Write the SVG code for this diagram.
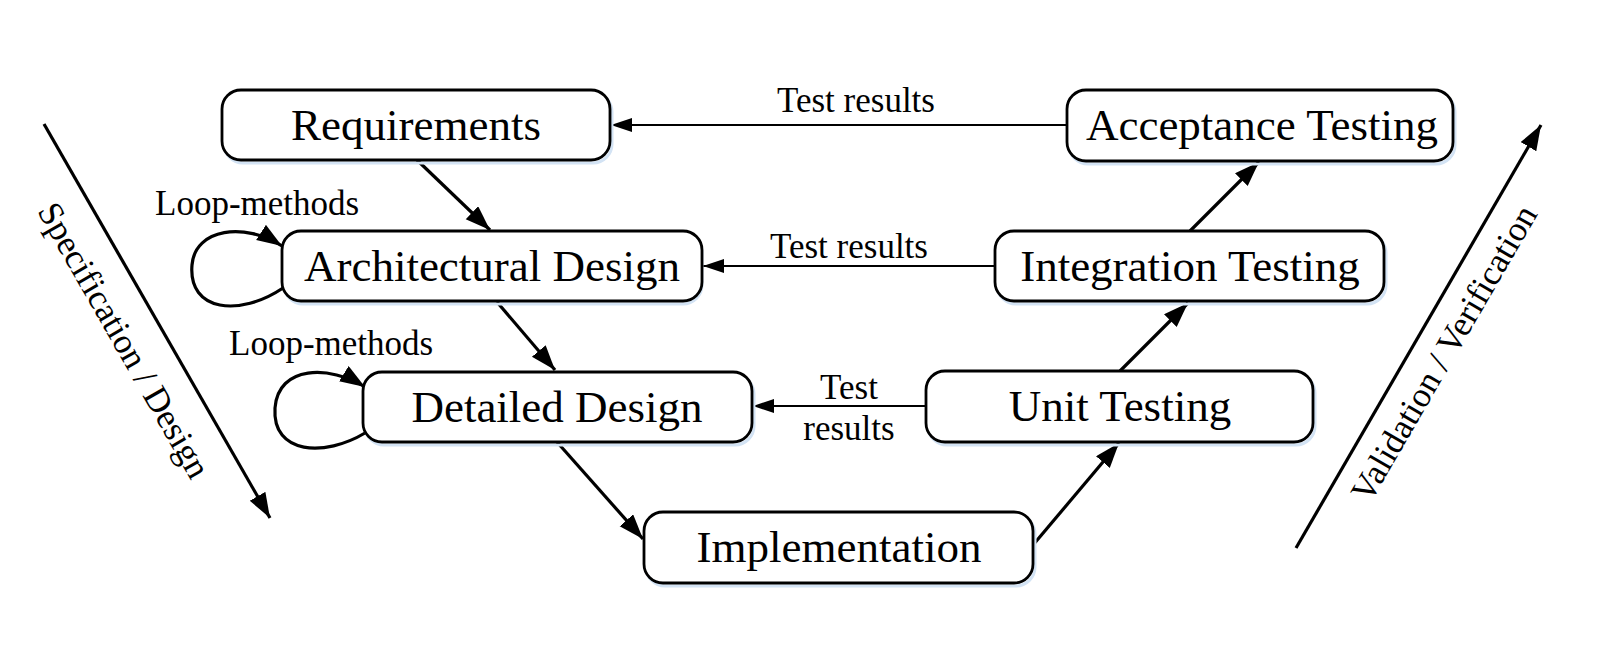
<svg xmlns="http://www.w3.org/2000/svg" width="1615" height="657" viewBox="0 0 1615 657">
<style>
.box{fill:#ffffff;stroke:#000000;stroke-width:2.8}
.shadow{fill:none;stroke:#d3e3f4;stroke-width:3}
.bt{font-family:"Liberation Serif","Times New Roman",serif;font-size:45px;fill:#000;text-anchor:middle}
.lt{font-family:"Liberation Serif","Times New Roman",serif;font-size:35px;fill:#000}
.thick{fill:none;stroke:#000;stroke-width:3.2}
.thin{fill:none;stroke:#000;stroke-width:1.8}
</style>
<defs>
<marker id="ah" markerUnits="userSpaceOnUse" markerWidth="26" markerHeight="20" refX="25" refY="9" orient="auto">
<path d="M0,0 L25,9 L0,18 z" fill="#000"/>
</marker>
<marker id="ahs" markerUnits="userSpaceOnUse" markerWidth="22" markerHeight="16" refX="21" refY="7" orient="auto">
<path d="M0,0 L21,7 L0,14 z" fill="#000"/>
</marker>
</defs>
<rect width="1615" height="657" fill="#ffffff"/>

<g id="connectors">
<line class="thin" x1="1067" y1="125" x2="611" y2="125" marker-end="url(#ahs)"/>
<line class="thin" x1="995" y1="266" x2="703" y2="266" marker-end="url(#ahs)"/>
<line class="thin" x1="926" y1="406" x2="753" y2="406" marker-end="url(#ahs)"/>
<line class="thick" x1="417" y1="160" x2="490" y2="230" marker-end="url(#ah)"/>
<line class="thick" x1="497" y1="302" x2="555" y2="370" marker-end="url(#ah)"/>
<line class="thick" x1="557" y1="442" x2="643" y2="539" marker-end="url(#ah)"/>
<line class="thick" x1="1033" y1="545" x2="1119" y2="443" marker-end="url(#ah)"/>
<line class="thick" x1="1120" y1="371" x2="1188" y2="303" marker-end="url(#ah)"/>
<line class="thick" x1="1190" y1="231" x2="1259" y2="162" marker-end="url(#ah)"/>
<path class="thick" d="M283,288 C240,317 188,312 192,265 C195,228 245,222 282,246" marker-end="url(#ah)"/>
<path class="thick" d="M365,433 C325,457 272,455 275,408 C278,365 330,365 365,387" marker-end="url(#ah)"/>
<line class="thick" x1="44" y1="124" x2="270" y2="518" marker-end="url(#ah)"/>
<line class="thick" x1="1296" y1="548" x2="1541" y2="125" marker-end="url(#ah)"/>
</g>

<g id="labels">
<text class="lt" x="856" y="112" text-anchor="middle">Test results</text>
<text class="lt" x="849" y="258" text-anchor="middle">Test results</text>
<text class="lt" x="849" y="399" text-anchor="middle">Test</text>
<text class="lt" x="849" y="440" text-anchor="middle">results</text>
<text class="lt" x="155" y="215">Loop-methods</text>
<text class="lt" x="229" y="355">Loop-methods</text>
<text class="lt" text-anchor="middle" transform="translate(114,346) rotate(60.2)">Specification / Design</text>
<text class="lt" text-anchor="middle" transform="translate(1454,359) rotate(-59.9)">Validation / Verification</text>
</g>

<g id="requirements">
<rect class="shadow" x="224" y="93" width="388" height="70" rx="19"/>
<rect class="box" x="222" y="90" width="388" height="70" rx="19"/>
<text class="bt" x="416" y="140">Requirements</text>
</g>
<g id="architectural-design">
<rect class="shadow" x="284" y="234" width="418" height="70" rx="19"/>
<rect class="box" x="282" y="231" width="420" height="70" rx="19"/>
<text class="bt" x="492" y="281">Architectural Design</text>
</g>
<g id="detailed-design">
<rect class="shadow" x="365" y="375" width="389" height="70" rx="19"/>
<rect class="box" x="363" y="372" width="389" height="70" rx="19"/>
<text class="bt" x="557" y="422">Detailed Design</text>
</g>
<g id="implementation">
<rect class="shadow" x="646" y="515" width="389" height="71" rx="19"/>
<rect class="box" x="644" y="512" width="389" height="71" rx="19"/>
<text class="bt" x="839" y="562">Implementation</text>
</g>
<g id="unit-testing">
<rect class="shadow" x="928" y="374" width="387" height="71" rx="19"/>
<rect class="box" x="926" y="371" width="387" height="71" rx="19"/>
<text class="bt" x="1120" y="421">Unit Testing</text>
</g>
<g id="integration-testing">
<rect class="shadow" x="997" y="234" width="389" height="70" rx="19"/>
<rect class="box" x="995" y="231" width="389" height="70" rx="19"/>
<text class="bt" x="1190" y="281">Integration Testing</text>
</g>
<g id="acceptance-testing">
<rect class="shadow" x="1069" y="93" width="386" height="71" rx="19"/>
<rect class="box" x="1067" y="90" width="386" height="71" rx="19"/>
<text class="bt" x="1262" y="140">Acceptance Testing</text>
</g>
</svg>
